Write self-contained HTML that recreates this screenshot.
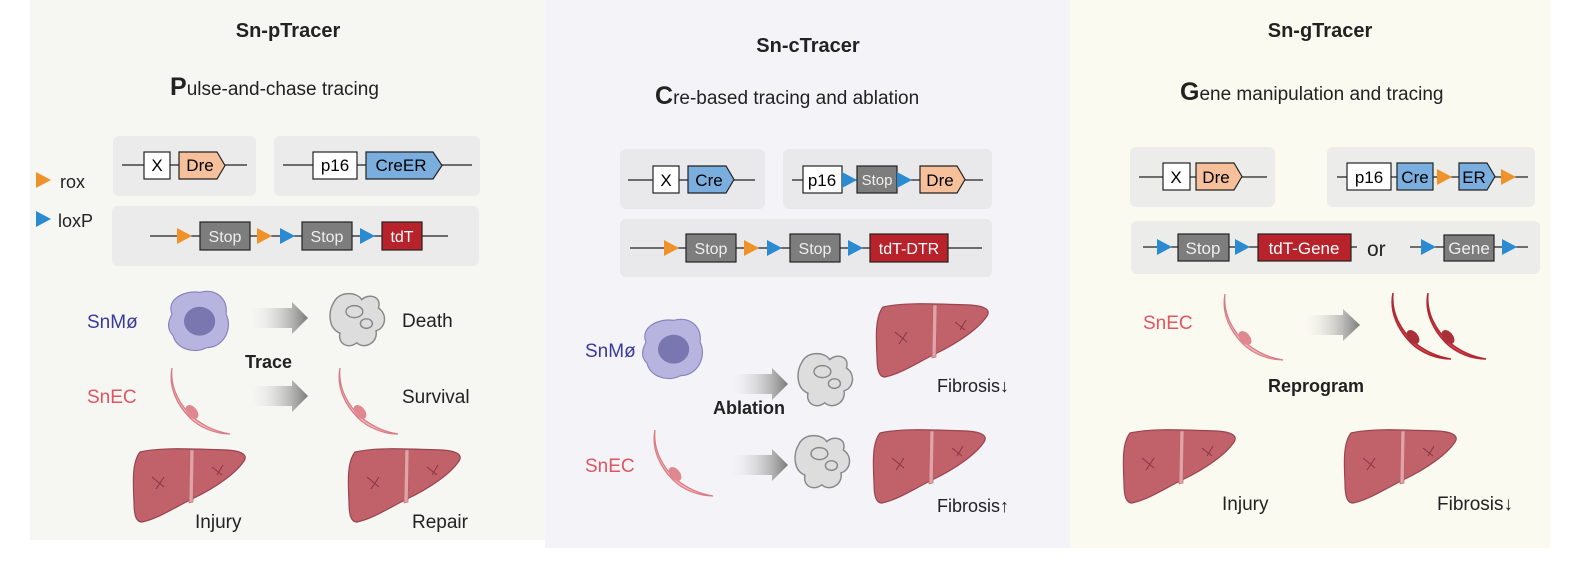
<!DOCTYPE html>
<html><head><meta charset="utf-8"><style>
body{margin:0;width:1575px;height:565px;overflow:hidden;background:#fff;font-family:"Liberation Sans",Arial,sans-serif}
svg{display:block}
text{font-family:"Liberation Sans",Arial,sans-serif}
</style></head><body>
<svg width="1575" height="565" viewBox="0 0 1575 565">
<defs>
<linearGradient id="ga" x1="0" x2="1"><stop offset="0" stop-color="#fff" stop-opacity="0"/><stop offset="1" stop-color="#7a7a7a"/></linearGradient>
<g id="liver">
<path d="M8,5 C30,0 60,2 95,3 C110,4 116,8 112,14 C104,26 85,40 60,52 C40,62 25,72 10,75 C4,75 2,68 2,55 C1,35 0,15 8,5Z" fill="#c1626b" stroke="#9a4450" stroke-width="1.2"/>
<path d="M58,3 L62,3 L61,55 L57,56Z" fill="#e3a2a6" stroke="#b0606a" stroke-width="0.6"/>
<path d="M20,30 l12,10 M24,42 l8,-12 M80,20 l10,8 M85,28 l6,-10" stroke="#8a3540" stroke-width="1"/>
</g>
<g id="mac" transform="scale(1.2)">
<path d="M5,20 C0,8 15,0 28,2 C42,-2 52,8 50,20 C56,32 48,48 34,48 C22,54 8,48 6,38 C0,32 2,26 5,20Z" fill="#b7b5e0" stroke="#8884c0"/>
<ellipse cx="28" cy="26" rx="13" ry="12" fill="#7a76b0"/>
</g>
<g id="dead" fill="#ddd" stroke="#888" stroke-width="1.2" transform="scale(1.2)">
<path d="M5,10 C10,0 25,2 28,8 C35,2 45,6 42,15 C50,20 48,32 40,34 C42,44 30,50 24,44 C16,50 8,44 10,36 C0,32 0,18 5,10Z"/>
<ellipse cx="22" cy="18" rx="7" ry="5"/><ellipse cx="32" cy="28" rx="5" ry="4"/>
</g>
<g id="ec"><path d="M0,0 C-2,20 8,38 22,50 C32,58 45,64 58,66 C44,66 28,60 18,50 C6,38 -4,20 0,0Z" fill="#f1b4b8" stroke="#d87a82" stroke-width="1.2"/><ellipse cx="20" cy="44" rx="5" ry="8" transform="rotate(-40 20 44)" fill="#e08890"/></g>
<g id="ecr"><path d="M0,0 C-2,20 8,38 22,50 C32,58 45,64 58,66 C44,66 28,60 18,50 C6,38 -4,20 0,0Z" fill="#d84850" stroke="#b02832" stroke-width="1.5"/><ellipse cx="20" cy="44" rx="5" ry="8" transform="rotate(-40 20 44)" fill="#a83038"/></g>
<path id="ot" d="M0,-8 L15,0 L0,8Z" fill="#f0922a"/>
<path id="bt" d="M0,-8 L15,0 L0,8Z" fill="#2a8ad2"/>
</defs>
<rect x="30" y="0" width="515" height="540" fill="#f6f7f3"/>
<rect x="545" y="0" width="525" height="548" fill="#f4f4f8"/>
<rect x="1070" y="0" width="480" height="548" fill="#fbfaf0"/>

<!-- LEFT -->
<text x="288" y="37" font-size="20" font-weight="bold" text-anchor="middle" fill="#222">Sn-pTracer</text>
<text x="170" y="95" font-size="19" fill="#222"><tspan font-size="25" font-weight="bold">P</tspan>ulse-and-chase tracing</text>
<rect x="113" y="136" width="143" height="60" rx="6" fill="#ebebeb"/>
<rect x="274" y="136" width="206" height="60" rx="6" fill="#ebebeb"/>
<rect x="112" y="206" width="367" height="60" rx="6" fill="#ebebeb"/>
<g stroke="#222" stroke-width="1.2">
<line x1="122" y1="165" x2="247" y2="165"/><line x1="283" y1="165" x2="472" y2="165"/><line x1="150" y1="236" x2="448" y2="236"/>
<rect x="144" y="152" width="26" height="27" fill="#fff"/>
<path d="M179,152 H217 L225,165.5 L217,179 H179Z" fill="#f6c09a"/>
<rect x="313" y="152" width="44" height="27" fill="#fff"/>
<path d="M366,152 H433 L442,165.5 L433,179 H366Z" fill="#7aaedf"/>
<rect x="200" y="222" width="50" height="28" fill="#7d7d7d"/>
<rect x="302" y="222" width="50" height="28" fill="#7d7d7d"/>
<rect x="382" y="222" width="40" height="28" fill="#b8222a"/>
</g>
<text x="157" y="171" font-size="17" text-anchor="middle">X</text>
<text x="200" y="171" font-size="17" text-anchor="middle">Dre</text>
<text x="335" y="171" font-size="17" text-anchor="middle">p16</text>
<text x="401" y="171" font-size="17" text-anchor="middle">CreER</text>
<text x="225" y="242" font-size="16" fill="#eee" text-anchor="middle">Stop</text>
<text x="327" y="242" font-size="16" fill="#eee" text-anchor="middle">Stop</text>
<text x="402" y="242" font-size="16" fill="#fff" text-anchor="middle">tdT</text>
<use href="#ot" x="177" y="236"/><use href="#ot" x="257" y="236"/><use href="#bt" x="280" y="236"/><use href="#bt" x="360" y="236"/>
<use href="#ot" x="36" y="180"/><text x="60" y="188" font-size="18" fill="#222">rox</text>
<use href="#bt" x="36" y="219"/><text x="58" y="227" font-size="18" fill="#222">loxP</text>
<text x="87" y="328" font-size="19" fill="#3a3a9e">SnMø</text>
<text x="87" y="403" font-size="19" fill="#e05562">SnEC</text>
<use href="#mac" x="166" y="290"/>
<use href="#dead" x="328" y="290"/>
<path d="M245,308 H292 V302 L308,318 L292,334 V328 H245Z" fill="url(#ga)"/>
<path d="M245,386 H292 V380 L308,396 L292,412 V406 H245Z" fill="url(#ga)"/>
<text x="245" y="368" font-size="18" font-weight="bold" fill="#222">Trace</text>
<text x="402" y="327" font-size="19" fill="#222">Death</text>
<text x="402" y="403" font-size="19" fill="#222">Survival</text>
<use href="#ec" x="172" y="368"/><use href="#ec" x="340" y="368"/>
<use href="#liver" x="132" y="447"/><use href="#liver" x="347" y="447"/>
<text x="195" y="528" font-size="19" fill="#222">Injury</text>
<text x="412" y="528" font-size="19" fill="#222">Repair</text>

<!-- MIDDLE -->
<text x="808" y="52" font-size="20" font-weight="bold" text-anchor="middle" fill="#222">Sn-cTracer</text>
<text x="655" y="104" font-size="19" fill="#222"><tspan font-size="25" font-weight="bold">C</tspan>re-based tracing and ablation</text>
<rect x="620" y="149" width="145" height="60" rx="6" fill="#e9e9ec"/>
<rect x="783" y="149" width="209" height="60" rx="6" fill="#e9e9ec"/>
<rect x="620" y="219" width="372" height="58" rx="6" fill="#e9e9ec"/>
<g stroke="#222" stroke-width="1.2">
<line x1="628" y1="180" x2="755" y2="180"/><line x1="792" y1="180" x2="983" y2="180"/><line x1="630" y1="248" x2="982" y2="248"/>
<rect x="653" y="166" width="26" height="27" fill="#fff"/>
<path d="M688,166 H726 L734,179.5 L726,193 H688Z" fill="#7aaedf"/>
<rect x="803" y="166" width="39" height="27" fill="#fff"/>
<rect x="857" y="166" width="40" height="27" fill="#7d7d7d"/>
<path d="M920,166 H957 L965,179.5 L957,193 H920Z" fill="#f6c09a"/>
<rect x="686" y="234" width="50" height="28" fill="#7d7d7d"/>
<rect x="790" y="234" width="50" height="28" fill="#7d7d7d"/>
<rect x="870" y="234" width="78" height="28" fill="#b8222a"/>
</g>
<text x="666" y="186" font-size="17" text-anchor="middle">X</text>
<text x="709" y="186" font-size="17" text-anchor="middle">Cre</text>
<text x="822" y="186" font-size="17" text-anchor="middle">p16</text>
<text x="877" y="185" font-size="15" fill="#eee" text-anchor="middle">Stop</text>
<text x="940" y="186" font-size="17" text-anchor="middle">Dre</text>
<text x="711" y="254" font-size="16" fill="#eee" text-anchor="middle">Stop</text>
<text x="815" y="254" font-size="16" fill="#eee" text-anchor="middle">Stop</text>
<text x="909" y="254" font-size="16" fill="#fff" text-anchor="middle">tdT-DTR</text>
<use href="#bt" x="842" y="180"/><use href="#bt" x="897" y="180"/>
<use href="#ot" x="664" y="248"/><use href="#ot" x="744" y="248"/><use href="#bt" x="767" y="248"/><use href="#bt" x="848" y="248"/>
<text x="585" y="357" font-size="19" fill="#3a3a9e">SnMø</text>
<text x="585" y="472" font-size="19" fill="#e05562">SnEC</text>
<use href="#mac" x="640" y="318"/>
<use href="#ec" x="655" y="430"/>
<path d="M725,374 H772 V368 L788,384 L772,400 V394 H725Z" fill="url(#ga)"/>
<path d="M725,455 H772 V449 L788,465 L772,481 V475 H725Z" fill="url(#ga)"/>
<use href="#dead" x="796" y="350"/><use href="#dead" x="793" y="432"/>
<text x="713" y="414" font-size="18" font-weight="bold" fill="#222">Ablation</text>
<use href="#liver" x="875" y="302"/><use href="#liver" x="872" y="428"/>
<text x="937" y="392" font-size="18" fill="#222">Fibrosis↓</text>
<text x="937" y="512" font-size="18" fill="#222">Fibrosis↑</text>

<!-- RIGHT -->
<text x="1320" y="37" font-size="20" font-weight="bold" text-anchor="middle" fill="#222">Sn-gTracer</text>
<text x="1180" y="100" font-size="19" fill="#222"><tspan font-size="25" font-weight="bold">G</tspan>ene manipulation and tracing</text>
<rect x="1130" y="147" width="145" height="60" rx="6" fill="#ececea"/>
<rect x="1327" y="147" width="208" height="60" rx="6" fill="#ececea"/>
<rect x="1131" y="221" width="409" height="53" rx="6" fill="#ececea"/>
<g stroke="#222" stroke-width="1.2">
<line x1="1139" y1="177" x2="1267" y2="177"/><line x1="1337" y1="177" x2="1528" y2="177"/>
<line x1="1143" y1="247" x2="1357" y2="247"/><line x1="1410" y1="247" x2="1528" y2="247"/>
<rect x="1163" y="163" width="27" height="27" fill="#fff"/>
<path d="M1196,163 H1234 L1242,176.5 L1234,190 H1196Z" fill="#f6c09a"/>
<rect x="1347" y="163" width="44" height="27" fill="#fff"/>
<rect x="1397" y="163" width="36" height="27" fill="#7aaedf"/>
<path d="M1459,163 H1487 L1495,176.5 L1487,190 H1459Z" fill="#7aaedf"/>
<rect x="1178" y="234" width="51" height="27" fill="#7d7d7d"/>
<rect x="1258" y="234" width="93" height="27" fill="#b8222a"/>
<rect x="1444" y="235" width="50" height="26" fill="#7d7d7d"/>
</g>
<text x="1176" y="183" font-size="17" text-anchor="middle">X</text>
<text x="1216" y="183" font-size="17" text-anchor="middle">Dre</text>
<text x="1369" y="183" font-size="17" text-anchor="middle">p16</text>
<text x="1415" y="183" font-size="17" text-anchor="middle">Cre</text>
<text x="1474" y="183" font-size="17" text-anchor="middle">ER</text>
<use href="#ot" x="1437" y="177"/><use href="#ot" x="1501" y="177"/>
<use href="#bt" x="1157" y="247"/><use href="#bt" x="1235" y="247"/>
<use href="#bt" x="1421" y="247"/><use href="#bt" x="1502" y="247"/>
<text x="1203" y="254" font-size="17" fill="#eee" text-anchor="middle">Stop</text>
<text x="1304" y="254" font-size="17" fill="#fff" text-anchor="middle">tdT-Gene</text>
<text x="1469" y="254" font-size="17" fill="#eee" text-anchor="middle">Gene</text>
<text x="1367" y="256" font-size="21" fill="#222">or</text>
<text x="1143" y="329" font-size="19" fill="#e05562">SnEC</text>
<use href="#ec" x="1225" y="294"/>
<path d="M1300,315 H1343 V309 L1360,325 L1343,341 V335 H1300Z" fill="url(#ga)"/>
<use href="#ecr" x="1393" y="293"/><use href="#ecr" x="1428" y="293"/>
<text x="1268" y="392" font-size="18" font-weight="bold" fill="#222">Reprogram</text>
<use href="#liver" x="1122" y="428"/><use href="#liver" x="1343" y="428"/>
<text x="1222" y="510" font-size="19" fill="#222">Injury</text>
<text x="1437" y="510" font-size="19" fill="#222">Fibrosis↓</text>
</svg>
</body></html>
